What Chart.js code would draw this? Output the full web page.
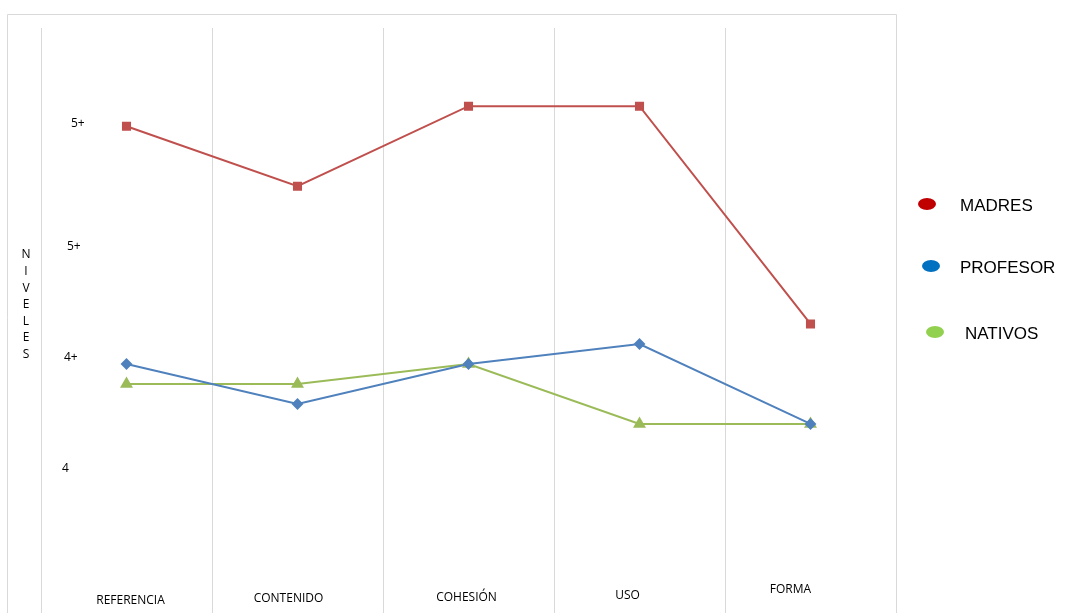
<!DOCTYPE html>
<html>
<head>
<meta charset="utf-8">
<script src="https://cdn.jsdelivr.net/npm/chart.js@4/dist/chart.umd.min.js"></script>
<style>
  html, body { margin: 0; padding: 0; background: #fff; overflow: hidden; }
  #wrap { width: 1066px; height: 613px; position: relative; overflow: hidden; }
</style>
</head>
<body>
<div id="wrap"><canvas id="nivelesChart" width="1066" height="621"></canvas></div>
<script>
const categories = ['REFERENCIA', 'CONTENIDO', 'COHESIÓN', 'USO', 'FORMA'];
const madres = [5.54, 5.27, 5.63, 5.63, 4.65];
const profesor = [4.47, 4.29, 4.47, 4.56, 4.20];
const nativos = [4.38, 4.38, 4.47, 4.20, 4.20];
const tickValues = [4, 4.5, 5, 5.55];
const tickLabels = ['4', '4+', '5+', '5+'];
const seriesNames = ['MADRES', 'PROFESOR', 'NATIVOS'];
const legendColors = ['#c00000', '#0070c0', '#92d050'];

const canvas = document.getElementById('nivelesChart');

// labels drawn by hand so they can sit where the original put them
const labelsPlugin = {
    id: 'labels',
    afterDraw(chart) {
        const c = chart.ctx;
        const x = chart.scales.x;
        const y = chart.scales.y;
        c.save();

        // outer frame
        c.strokeStyle = '#d9d9d9';
        c.lineWidth = 1;
        c.beginPath();
        c.moveTo(7.5, 621);
        c.lineTo(7.5, 14.5);
        c.lineTo(896.5, 14.5);
        c.lineTo(896.5, 621);
        c.stroke();

        c.fillStyle = '#000';
        c.font = '12px "Open Sans", "Liberation Sans", sans-serif';

        // y tick labels
        const tickX = [62, 64, 67, 71];
        c.textAlign = 'left';
        c.textBaseline = 'middle';
        tickValues.forEach((v, i) => {
            c.fillText(tickLabels[i], tickX[i], y.getPixelForValue(v));
        });

        // axis title, one letter per line
        c.textAlign = 'center';
        'NIVELES'.split('').forEach((ch, i) => {
            c.fillText(ch, 26, 255 + i * 16.6);
        });

        // category labels
        const dx = [4, -9, -2, -12, -20];
        const dy = [601, 599, 598, 596, 590];
        categories.forEach((cat, i) => {
            c.fillText(cat, x.getPixelForValue(i) + dx[i], dy[i]);
        });

        // legend
        const legX = [927, 931, 935];
        const legY = [204, 266, 332];
        const txtX = [960, 960, 965];
        c.font = '17px "Liberation Sans", Arial, sans-serif';
        c.textAlign = 'left';
        seriesNames.forEach((name, i) => {
            c.fillStyle = legendColors[i];
            c.beginPath();
            c.ellipse(legX[i], legY[i], 9, 6, 0, 0, Math.PI * 2);
            c.fill();
            c.fillStyle = '#000';
            c.fillText(name, txtX[i], legY[i] + 2);
        });
        c.restore();
    }
};

new Chart(canvas, {
    type: 'line',
    data: {
        labels: categories,
        datasets: [
            {
                label: seriesNames[0],
                data: madres,
                borderColor: '#c0504d',
                backgroundColor: '#c0504d',
                borderWidth: 2,
                pointStyle: 'rect',
                pointRadius: 5,
                tension: 0
            },
            {
                label: seriesNames[1],
                data: profesor,
                borderColor: '#4f81bd',
                backgroundColor: '#4f81bd',
                borderWidth: 2,
                pointStyle: 'rectRot',
                pointRadius: 4.5,
                tension: 0
            },
            {
                label: seriesNames[2],
                data: nativos,
                borderColor: '#9bbb59',
                backgroundColor: '#9bbb59',
                borderWidth: 2,
                pointStyle: 'triangle',
                pointRadius: 5.5,
                tension: 0
            }
        ]
    },
    options: {
        responsive: false,
        animation: false,
        layout: { padding: { left: 41, right: 170, top: 28, bottom: 0 } },
        plugins: {
            legend: { display: false },
            tooltip: { enabled: false }
        },
        scales: {
            x: {
                offset: true,
                grid: { color: '#d9d9d9', lineWidth: 1, drawTicks: false, offset: true },
                border: { display: false },
                ticks: { display: false }
            },
            y: {
                display: false,
                min: 3.347,
                max: 5.982
            }
        }
    },
    plugins: [labelsPlugin]
});
</script>
</body>
</html>
